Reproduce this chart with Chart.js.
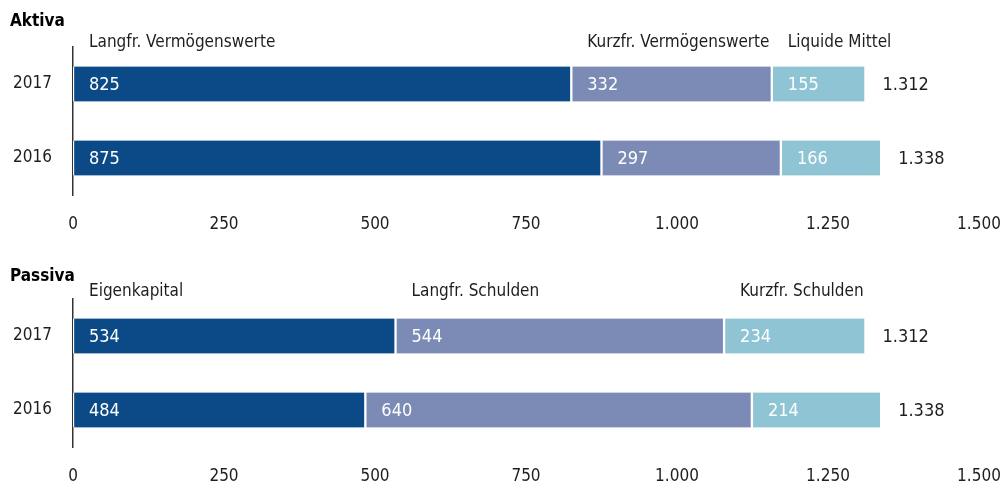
<!DOCTYPE html>
<html>
<head>
<meta charset="utf-8">
<script src="https://cdn.jsdelivr.net/npm/chart.js@4/dist/chart.umd.min.js"></script>
<style>
  html, body { margin: 0; padding: 0; background: #fff; overflow: hidden; }
  .box { position: absolute; left: 0; width: 1005px; }
</style>
</head>
<body>
<div class="box" style="top:0"><canvas id="aktiva" width="1005" height="240"></canvas></div>
<div class="box" style="top:252px"><canvas id="passiva" width="1005" height="240"></canvas></div>
<script>
// Data
const years = ['2017', '2016'];
const xTicks = [0, 250, 500, 750, 1000, 1250, 1500];

const aktivaNames = ['Langfr. Vermögenswerte', 'Kurzfr. Vermögenswerte', 'Liquide Mittel'];
const aktivaLangfr = [825, 875];
const aktivaKurzfr = [332, 297];
const aktivaLiquide = [155, 166];

const passivaNames = ['Eigenkapital', 'Langfr. Schulden', 'Kurzfr. Schulden'];
const passivaEigen = [534, 484];
const passivaLangfr = [544, 640];
const passivaKurzfr = [234, 214];

const colors = ['#0b4a87', '#7b8bb6', '#8ec4d3'];
const FONT = "'Liberation Sans Narrow', 'DejaVu Sans Condensed', 'Roboto Condensed', sans-serif";
const TEXT = '#1e1e1e';

// German thousands separator
function fmt(v) {
    if (v < 1000) return String(v);
    return Math.floor(v / 1000) + '.' + String(v % 1000).padStart(3, '0');
}

// Draws title, segment names, values and totals
const textPlugin = {
    id: 'texts',
    afterDatasetsDraw(chart, args, opts) {
        const ctx = chart.ctx;
        const xs = chart.scales.x;
        ctx.save();
        ctx.textBaseline = 'middle';
        ctx.textAlign = 'left';

        ctx.font = 'bold 17px ' + FONT;
        ctx.fillStyle = '#000';
        ctx.fillText(opts.title, 10, opts.titleY);

        // segment names above first bar
        ctx.font = '17px ' + FONT;
        ctx.fillStyle = TEXT;
        let start = 0;
        chart.data.datasets.forEach(ds => {
            ctx.fillText(ds.label, xs.getPixelForValue(start) + 16, opts.nameY);
            start += ds.data[0];
        });

        // values inside bars
        ctx.font = '18px ' + FONT;
        ctx.fillStyle = '#fff';
        chart.data.datasets.forEach((ds, i) => {
            chart.getDatasetMeta(i).data.forEach((el, j) => {
                const p = el.getProps(['base', 'y'], true);
                ctx.fillText(ds.data[j], p.base + 16, p.y + 1);
            });
        });

        // totals
        ctx.fillStyle = TEXT;
        const last = chart.data.datasets.length - 1;
        chart.getDatasetMeta(last).data.forEach((el, j) => {
            const total = chart.data.datasets.reduce((s, ds) => s + ds.data[j], 0);
            const p = el.getProps(['y'], true);
            ctx.fillText(fmt(total), xs.getPixelForValue(total) + 17, p.y + 1);
        });
        ctx.restore();
    }
};

function makeChart(id, names, series, title, titleY, nameY) {
    const ctx = document.getElementById(id).getContext('2d');
    return new Chart(ctx, {
        type: 'bar',
        data: {
            labels: years,
            datasets: series.map((data, i) => ({
                label: names[i],
                data: data,
                backgroundColor: colors[i],
                borderColor: '#fff',
                borderWidth: { left: 1.5, right: 1.5, top: 0, bottom: 0 },
                borderSkipped: false,
                barThickness: 35
            }))
        },
        options: {
            indexAxis: 'y',
            responsive: false,
            animation: false,
            layout: { padding: { top: 47, right: 26, bottom: 5, left: 0 } },
            plugins: {
                legend: { display: false },
                tooltip: { enabled: false },
                texts: { title: title, titleY: titleY, nameY: nameY }
            },
            scales: {
                x: {
                    stacked: true,
                    min: 0,
                    max: 1500,
                    afterBuildTicks: s => { s.ticks = xTicks.map(v => ({ value: v })); },
                    afterFit: s => { s.height = 40; s.paddingLeft = 0; s.paddingRight = 0; },
                    grid: { display: false },
                    border: { display: false },
                    ticks: {
                        padding: 11,
                        maxRotation: 0,
                        color: TEXT,
                        font: { family: FONT, size: 17 },
                        callback: v => fmt(v)
                    }
                },
                y: {
                    stacked: true,
                    afterFit: s => { s.width = 73; },
                    grid: { display: false },
                    border: { display: true, color: '#333', width: 1.5 },
                    ticks: {
                        padding: 13,
                        color: TEXT,
                        font: { family: FONT, size: 17 }
                    }
                }
            }
        },
        plugins: [textPlugin]
    });
}

makeChart('aktiva', aktivaNames, [aktivaLangfr, aktivaKurzfr, aktivaLiquide], 'Aktiva', 22, 43);
makeChart('passiva', passivaNames, [passivaEigen, passivaLangfr, passivaKurzfr], 'Passiva', 25, 40);
</script>
</body>
</html>
